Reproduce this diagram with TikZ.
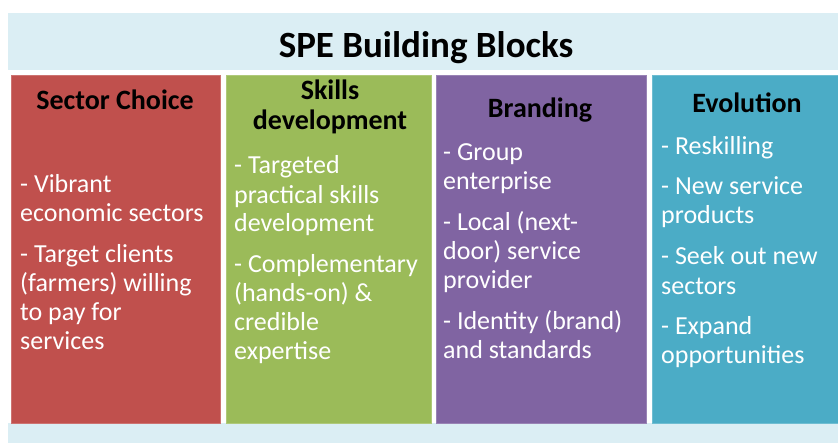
\documentclass[tikz,border=0pt]{standalone}
\usepackage{fontspec}
\setmainfont{Carlito}
\usetikzlibrary{positioning}
\definecolor{bandblue}{HTML}{DBEEF4}
\definecolor{sectorred}{HTML}{C0504D}
\definecolor{skillgreen}{HTML}{9BBB59}
\definecolor{brandpurple}{HTML}{8064A2}
\definecolor{evoblue}{HTML}{4BACC6}

\begin{document}
\begin{tikzpicture}[x=1pt,y=-1pt]
      \tikzstyle{block}=[rectangle,anchor=north west,inner sep=0,minimum height=348pt]
      \tikzstyle{head}=[font=\fontsize{28}{30}\selectfont\bfseries,align=center,inner sep=0,anchor=base]
      \tikzstyle{items}=[font=\fontsize{26}{29}\selectfont,text=white,align=left,inner sep=0,anchor=base west]

      \useasboundingbox (0,0) rectangle (838,443);
      \fill[bandblue] (8,13) rectangle (838,70);
      \fill[bandblue] (8,423) rectangle (838,443);

      \node[font=\fontsize{37}{40}\selectfont\bfseries,anchor=base] (T) at (426,58) {SPE Building Blocks};

      \node[block,fill=sectorred,draw=sectorred!80!white,minimum width=209pt] (A) at (11,75) {};
      \node[block,fill=skillgreen,draw=skillgreen!80!white,minimum width=205pt] (B) at (226,75) {};
      \node[block,fill=brandpurple,draw=brandpurple!80!white,minimum width=210pt] (C) at (436,75) {};
      \node[block,fill=evoblue,draw=evoblue!80!white,minimum width=190pt] (D) at (652,75) {};

      % base anchor sits on the last line
      \node[head] (A1) at (115,110) {Sector Choice};
      \node[head] (B1) at (330,130) {Skills\\development};
      \node[head] (C1) at (540,118) {Branding};
      \node[head] (D1) at (747,113) {Evolution};

      \node[items] (A2) at (20,350) {- Vibrant\\economic sectors\\[12pt]- Target clients\\(farmers) willing\\to pay for\\services};
      \node[items] (B2) at (234,360) {- Targeted\\practical skills\\development\\[12pt]- Complementary\\(hands-on) \&\\credible\\expertise};
      \node[items] (C2) at (443,359) {- Group\\enterprise\\[12pt]- Local (next-\\door) service\\provider\\[12pt]- Identity (brand)\\and standards};
      \node[items] (D2) at (661,364) {- Reskilling\\[12pt]- New service\\products\\[12pt]- Seek out new\\sectors\\[12pt]- Expand\\opportunities};
\end{tikzpicture}
\end{document}
